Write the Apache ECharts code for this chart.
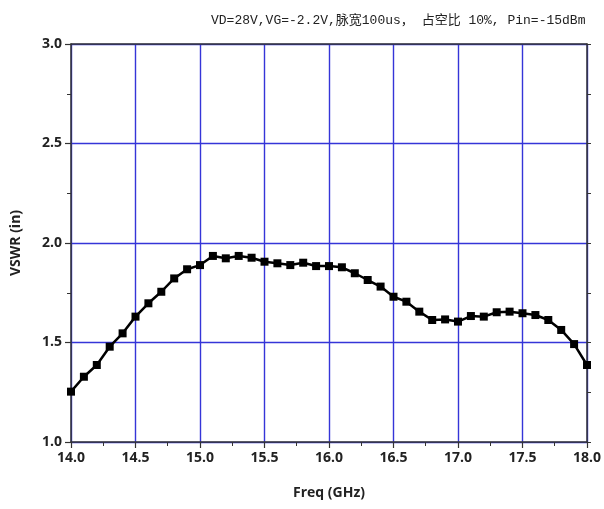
<!DOCTYPE html>
<html>
<head>
<meta charset="utf-8">
<script src="https://cdn.jsdelivr.net/npm/echarts@6/dist/echarts.min.js"></script>
<style>html,body{margin:0;padding:0;background:#fff;}#c{width:604px;height:509px;}</style>
</head>
<body>
<div id="c"></div>
<script>
var titleText = 'VD=28V,VG=-2.2V,脉宽100us， 占空比 10%, Pin=-15dBm';
var xName = 'Freq (GHz)';
var yName = 'VSWR (in)';
var freq = [14.0,14.1,14.2,14.3,14.4,14.5,14.6,14.7,14.8,14.9,15.0,15.1,15.2,15.3,15.4,15.5,15.6,15.7,15.8,15.9,16.0,16.1,16.2,16.3,16.4,16.5,16.6,16.7,16.8,16.9,17.0,17.1,17.2,17.3,17.4,17.5,17.6,17.7,17.8,17.9,18.0];
var vswr = [1.253,1.328,1.387,1.479,1.546,1.630,1.697,1.755,1.822,1.868,1.889,1.935,1.923,1.935,1.926,1.906,1.898,1.889,1.901,1.884,1.884,1.878,1.848,1.814,1.781,1.730,1.705,1.655,1.613,1.616,1.605,1.633,1.630,1.652,1.655,1.647,1.638,1.613,1.563,1.492,1.387];

var data = freq.map(function(f,i){return [f, vswr[i]];});
var chart = echarts.init(document.getElementById('c'), null, {renderer:'canvas'});
var labelStyle = {color:'#222', fontWeight:'bold', fontSize:14, fontFamily:'Open Sans, DejaVu Sans, sans-serif'};
var axisLine = {show:true, lineStyle:{color:'#333', width:1.5}};
var tick = {show:true, length:6, lineStyle:{color:'#333', width:1.2}};
var minor = {show:true, splitNumber:2, length:4, lineStyle:{color:'#333', width:1}};
chart.setOption({
  animation:false,
  backgroundColor:'#fff',
  title:{text:titleText, left:206, top:9, textStyle:{fontSize:13, fontWeight:'normal', color:'#222', fontFamily:'Liberation Mono, Noto Sans CJK SC, monospace'}},
  grid:{left:71, right:17, top:44, bottom:67},
  xAxis:[{
    type:'value', min:14, max:18, interval:0.5,
    name:xName, nameLocation:'middle', nameGap:44,
    nameTextStyle:{color:'#222', fontWeight:'bold', fontSize:14, fontFamily:'Open Sans, DejaVu Sans, sans-serif'},
    axisLine:axisLine, axisTick:tick, minorTick:minor,
    axisLabel:Object.assign({margin:9, formatter:function(v){return v.toFixed(1);}}, labelStyle),
    splitLine:{show:true, lineStyle:{color:'#3535d8', width:1.4}}
  },{
    type:'value', position:'top', min:14, max:18, interval:0.5,
    axisLine:axisLine, axisTick:{show:false}, axisLabel:{show:false}, splitLine:{show:false}
  }],
  yAxis:[{
    type:'value', min:1, max:3, interval:0.5,
    name:yName, nameLocation:'middle', nameGap:48,
    nameTextStyle:{color:'#222', fontWeight:'bold', fontSize:14, fontFamily:'Open Sans, DejaVu Sans, sans-serif'},
    axisLine:axisLine, axisTick:tick, minorTick:minor,
    axisLabel:Object.assign({margin:9, formatter:function(v){return v.toFixed(1);}}, labelStyle),
    splitLine:{show:true, lineStyle:{color:'#3535d8', width:1.4}}
  },{
    type:'value', position:'right', min:1, max:3, interval:0.5,
    axisLine:axisLine, axisTick:{show:true, length:4, lineStyle:{color:'#333'}}, minorTick:minor,
    axisLabel:{show:false}, splitLine:{show:false}
  }],
  series:[{
    type:'line', data:data, xAxisIndex:0, yAxisIndex:0,
    symbol:'rect', symbolSize:8, showSymbol:true,
    lineStyle:{color:'#000', width:2.5},
    itemStyle:{color:'#000'}
  }]
});
</script>
</body>
</html>
